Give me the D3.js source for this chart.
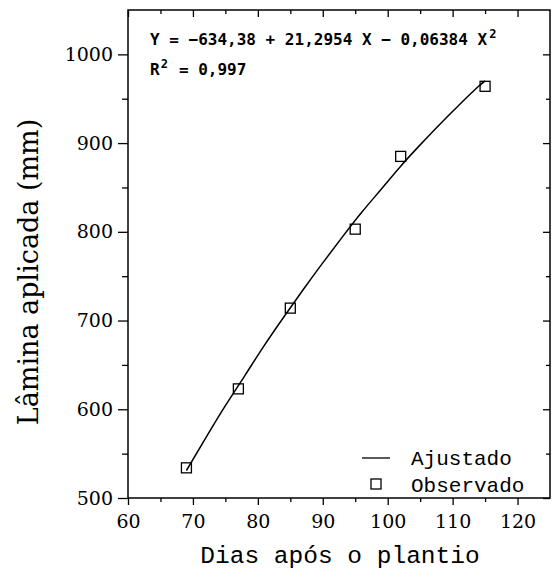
<!DOCTYPE html>
<html>
<head>
<meta charset="utf-8">
<script src="https://cdn.jsdelivr.net/npm/d3@7"></script>
<style>
  body { margin: 0; background: #fff; }
  svg { display: block; }
</style>
</head>
<body>
<script>
'use strict';

// observed points
const obsDays = [69, 77, 85, 95, 102, 115];
const obsLamina = [534, 623, 714, 803, 885, 964];

// fitted curve
const fitDays = [69, 72, 75, 78, 81, 84, 87, 90, 93, 96, 99, 102, 105, 108, 111, 114, 115];
const fitLamina = [531, 568, 604, 638, 672, 704, 735, 765, 794, 822, 848, 874, 898, 921, 943, 964, 970];

const xTicks = [60, 70, 80, 90, 100, 110, 120];
const yTicks = [500, 600, 700, 800, 900, 1000];

(function() {

  const svg = d3.select('body').append('svg')
    .attr('width', 553)
    .attr('height', 578);

  const pLeft = 128, pRight = 550, pTop = 10, pBottom = 498;

  const x = d3.scaleLinear().domain([60, 125]).range([pLeft, pRight]);
  const y = d3.scaleLinear().domain([500, 1050]).range([pBottom, pTop]);

  const serif = '"DejaVu Serif", serif';
  const mono = '"Liberation Mono", monospace';
  const eqFont = '"DejaVu Sans Mono", monospace';

  // minor ticks every 5 / 50
  const xMinor = d3.range(65, 125, 10);
  const yMinor = d3.range(550, 1050, 100);

  function minorAxis(axis, vals) {
    return axis.tickValues(vals).tickSize(4).tickFormat('');
  }

  function noDomain(g) { g.select('.domain').remove(); }

  function labelStyle(g) {
    g.selectAll('text')
      .style('font-family', serif)
      .style('font-size', '19px')
      .attr('fill', '#000');
  }

  // bottom axis: outward ticks + labels
  svg.append('g')
    .attr('transform', `translate(0,${pBottom})`)
    .call(d3.axisBottom(x).tickValues(xTicks).tickSize(7).tickPadding(10).tickFormat(d3.format('d')))
    .call(noDomain).call(labelStyle);
  svg.append('g')
    .attr('transform', `translate(0,${pBottom})`)
    .call(minorAxis(d3.axisBottom(x), xMinor))
    .call(noDomain);

  // left axis
  svg.append('g')
    .attr('transform', `translate(${pLeft},0)`)
    .call(d3.axisLeft(y).tickValues(yTicks).tickSize(10).tickPadding(5).tickFormat(d3.format('d')))
    .call(noDomain).call(labelStyle);
  svg.append('g')
    .attr('transform', `translate(${pLeft},0)`)
    .call(minorAxis(d3.axisLeft(y), yMinor).tickSize(6))
    .call(noDomain);

  // top and right: inward ticks, no labels
  svg.append('g')
    .attr('transform', `translate(0,${pTop})`)
    .call(d3.axisBottom(x).tickValues(xTicks).tickSize(7).tickFormat(''))
    .call(noDomain);
  svg.append('g')
    .attr('transform', `translate(0,${pTop})`)
    .call(minorAxis(d3.axisBottom(x), xMinor))
    .call(noDomain);
  svg.append('g')
    .attr('transform', `translate(${pRight},0)`)
    .call(d3.axisLeft(y).tickValues(yTicks).tickSize(7).tickFormat(''))
    .call(noDomain);
  svg.append('g')
    .attr('transform', `translate(${pRight},0)`)
    .call(minorAxis(d3.axisLeft(y), yMinor))
    .call(noDomain);

  svg.selectAll('.tick line').attr('stroke', '#000').attr('stroke-width', 1.3);

  // frame
  svg.append('rect')
    .attr('x', pLeft).attr('y', pTop)
    .attr('width', pRight - pLeft).attr('height', pBottom - pTop)
    .attr('fill', 'none').attr('stroke', '#000').attr('stroke-width', 1.5);

  // fitted line
  const fitData = fitDays.map((d, i) => ({ x: d, y: fitLamina[i] }));
  const line = d3.line()
    .x(d => x(d.x))
    .y(d => y(d.y))
    .curve(d3.curveNatural);
  svg.append('path')
    .datum(fitData)
    .attr('d', line)
    .attr('fill', 'none')
    .attr('stroke', '#000')
    .attr('stroke-width', 1.5);

  // observed squares
  const sq = 10;
  svg.selectAll('.obs')
    .data(obsDays.map((d, i) => ({ x: d, y: obsLamina[i] })))
    .enter()
    .append('rect')
    .attr('class', 'obs')
    .attr('x', d => x(d.x) - sq / 2)
    .attr('y', d => y(d.y) - sq / 2)
    .attr('width', sq).attr('height', sq)
    .attr('fill', 'none')
    .attr('stroke', '#000')
    .attr('stroke-width', 1.3);

  // equation (monospaced, 16px -> ~9.6px pitch)
  const pitch = 9.63;
  const eq = svg.append('text')
    .attr('x', 150).attr('y', 45)
    .style('font-family', eqFont)
    .style('font-weight', 'bold')
    .style('font-size', '16px');
  eq.append('tspan').text('Y = \u2212634,38 + 21,2954 X \u2212 0,06384 X');
  eq.append('tspan').attr('dx', 2).attr('dy', -7).style('font-size', '12px').text('2');

  const r2 = svg.append('text')
    .attr('x', 150).attr('y', 75)
    .style('font-family', eqFont)
    .style('font-weight', 'bold')
    .style('font-size', '16px');
  r2.append('tspan').text('R');
  r2.append('tspan').attr('dx', 1).attr('dy', -7).style('font-size', '12px').text('2');
  r2.append('tspan').attr('x', 150 + 2 * pitch).attr('dy', 7).text(' = 0,997');

  // legend
  svg.append('line')
    .attr('x1', 362).attr('x2', 390)
    .attr('y1', 458).attr('y2', 458)
    .attr('stroke', '#000').attr('stroke-width', 1.3);
  svg.append('text')
    .attr('x', 411).attr('y', 465)
    .style('font-family', mono).style('font-size', '21px')
    .text('Ajustado');
  svg.append('rect')
    .attr('x', 371).attr('y', 479)
    .attr('width', sq).attr('height', sq)
    .attr('fill', 'none').attr('stroke', '#000').attr('stroke-width', 1.3);
  svg.append('text')
    .attr('x', 411).attr('y', 492)
    .style('font-family', mono).style('font-size', '21px')
    .text('Observado');

  // axis titles
  svg.append('text')
    .attr('x', 340).attr('y', 563)
    .attr('text-anchor', 'middle')
    .style('font-family', mono).style('font-size', '24.5px')
    .text('Dias após o plantio');

  svg.append('text')
    .attr('transform', 'translate(38, 272)rotate(-90)')
    .attr('text-anchor', 'middle')
    .style('font-family', serif).style('font-size', '27px')
    .text('Lâmina aplicada (mm)');

})();
</script>
</body>
</html>
